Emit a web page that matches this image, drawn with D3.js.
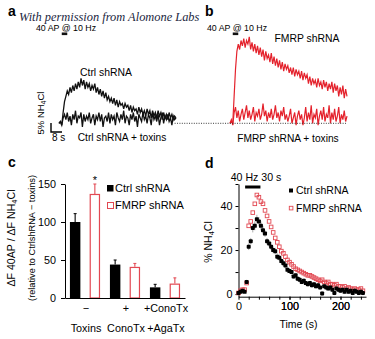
<!DOCTYPE html>
<html>
<head>
<meta charset="utf-8">
<script src="https://cdn.jsdelivr.net/npm/d3@7"></script>
<style>
  body { margin: 0; background: #fff; }
  svg { display: block; font-family: "Liberation Sans", Arial, Helvetica, sans-serif; }
</style>
</head>
<body>
<script>
"use strict";

// a/b: example traces, % NH4Cl, one sample per second
var ctrlTrace = [0, 1, -1, 6, 12, 15, 18, 16, 20, 17,
  21, 18, 22, 19, 23, 20, 25, 21, 24, 19,
  23, 20, 22, 18, 21, 19, 22, 17, 20, 16,
  19, 15, 18, 14, 17, 13, 15, 12, 14, 11,
  14, 10, 13, 9, 12, 10, 11, 8, 11, 9,
  10, 7, 10, 6, 9, 7, 8, 5, 9, 6,
  8, 5, 7, 4, 8, 5, 7, 3, 7, 4,
  6, 3, 7, 4, 6, 2, 6, 3, 5, 2,
  6, 3, 5, 2, 4, 3];
var ctrlToxinsTrace = [0, 1, -1, 3, 5, 2, 6, 1, 4, -1,
  5, 2, 7, 0, 4, 3, 6, -2, 5, 1,
  4, 2, 6, 0, 3, 5, -1, 4, 2, 6,
  1, 5, -2, 3, 4, 1, 6, 0, 5, 2,
  4, -1, 6, 3, 1, 5, 2, 7, 0, 4,
  3, -1, 5, 2, 6, 1, 4, -2, 5, 3,
  1, 6, 2, 4, 0, 5, 3, -1, 6, 2,
  4, 1, 5, -1, 3, 6, 0, 4, 2, 5,
  1, 3, -1, 4, 2, 3];
var fmrpTrace = [0, 1, 0, 15, 30, 40, 44, 41, 46, 43,
  47, 42, 46, 44, 48, 41, 45, 40, 44, 39,
  43, 38, 42, 37, 41, 35, 40, 36, 38, 34,
  39, 33, 37, 32, 36, 31, 35, 30, 34, 29,
  33, 30, 32, 28, 31, 27, 31, 26, 30, 27,
  29, 25, 29, 24, 28, 25, 27, 22, 26, 21,
  25, 22, 24, 20, 25, 21, 23, 19, 24, 20,
  23, 18, 22, 19, 23, 17, 22, 18, 21, 15,
  20, 16, 21, 14, 19, 15];
var fmrpToxinsTrace = [0, 2, -1, 6, 9, 3, 7, 1, 5, 8,
  2, 6, 10, 3, 7, 2, 5, 9, 1, 6,
  4, 8, 2, 5, 11, 4, 7, 1, 6, 3,
  8, 2, 5, 10, 3, 6, 1, 7, 4, 9,
  2, 5, 1, 4, 8, 0, 3, 6, -1, 4,
  7, 2, 5, -1, 3, 9, 1, 6, 2, 10,
  0, 5, 3, 8, -1, 4, 7, 2, 9, 1,
  5, 3, 10, 0, 6, 2, 8, 1, 4, 9,
  0, 5, 2, 7, 1, 4];
var traceStim = [2, 6];      // 40 AP @ 10 Hz, s
var scaleBar = [8, 5];       // 8 s, 5 % NH4Cl

// c: dF 40AP / dF NH4Cl, relative to Ctrl shRNA - toxins
var conditions = ["none", "cono", "conoaga"];
var condRow1 = ["\u2212", "+", "+ConoTx"];
var condRow2 = ["Toxins", "ConoTx", "+AgaTx"];
var ctrlBar = [100, 44, 14];
var ctrlBarErr = [11, 6, 4];
var fmrpBar = [137, 41, 19];
var fmrpBarErr = [13, 4.5, 7.5];

// d: 40 Hz 30 s time course, % NH4Cl
var timeS = [0, 4, 8, 12, 16, 20, 24, 28, 32, 36, 40, 44, 48, 52, 56, 60,
  64, 68, 72, 76, 80, 84, 88, 92, 96, 100, 104, 108, 112, 116, 120, 124,
  128, 132, 136, 140, 144, 148, 152, 156, 160, 164, 168, 172, 176, 180, 184, 188,
  192, 196, 200, 204, 208, 212, 216, 220, 224, 228, 232, 236, 240, 244];
var ctrlNH4 = [0.5, 1, 1.5, 1, 5.5, 21.5, 24, 30, 31, 34, 33, 31, 29, 27.5, 24, 23,
  21.5, 20, 19.5, 17, 16.5, 15, 14, 13, 11, 10.5, 10, 8, 8.5, 7, 6.5, 5.5,
  6, 5, 4.5, 5, 4, 4.5, 3.5, 4, 3, 0.3, 3.5, 3, 2.5, 3, 2, 0.5,
  2.5, 2, 1.5, 2, 1, 2, 1, 1.5, 0.5, 1.5, 1, 0.5, 1, 0.5];
var ctrlNH4Sem = [0.5, 0.5, 0.5, 0.5, 1, 1.5, 1.5, 2, 2, 2, 2, 2, 2, 1.5, 1.5, 1.5,
  1.5, 1.5, 1.5, 1.5, 1.5, 1.5, 1.5, 1.5, 1.5, 1, 1, 1, 1, 1, 1, 1,
  1, 1, 1, 1, 1, 1, 1, 1, 1, 1, 1, 1, 1, 1, 1, 1,
  1, 1, 1, 1, 1, 1, 1, 1, 1, 1, 1, 1, 1, 1];
var fmrpNH4 = [0.5, 1.5, 2, 2, 5, 31, 33, 37, 41, 45, 44, 42, 41, 38, 35.5, 33,
  30.5, 28, 25.5, 23.5, 21.5, 19.5, 18.5, 17, 15.5, 14.5, 13.5, 12.5, 11.5, 11, 10.5, 10,
  9.5, 9, 8.5, 8.5, 8, 7.5, 7, 6.5, 6, 6.5, 5.5, 5, 5.5, 4.5, 4.5, 4,
  4.5, 3.5, 3.5, 3, 3.5, 2.5, 3, 2.5, 2, 2.5, 2, 2, 2.5, 1.5];
var stimD = [13, 43];

var RED = "#e4222c";
var RED_OPEN = "#e24852";

var svg = d3.select("body").append("svg")
  .attr("width", 375)
  .attr("height", 339);

// ---------- panels a and b ----------

var xa = d3.scaleLinear().domain([0, 85]).range([59, 176]);
var xb = d3.scaleLinear().domain([0, 85]).range([230, 347]);
var yt = d3.scaleLinear().domain([0, 5]).range([123.3, 114.3]);

function traceLine(x) {
  return d3.line()
    .x(function (d, i) { return x(i); })
    .y(function (d) { return yt(d); });
}

svg.append("path").datum(ctrlToxinsTrace)
  .attr("d", traceLine(xa))
  .attr("fill", "none").attr("stroke", "#111").attr("stroke-width", 1.3);
svg.append("path").datum(ctrlTrace)
  .attr("d", traceLine(xa))
  .attr("fill", "none").attr("stroke", "#111").attr("stroke-width", 1.3);
svg.append("path").datum(fmrpToxinsTrace)
  .attr("d", traceLine(xb))
  .attr("fill", "none").attr("stroke", RED).attr("stroke-width", 1.2);
svg.append("path").datum(fmrpTrace)
  .attr("d", traceLine(xb))
  .attr("fill", "none").attr("stroke", RED).attr("stroke-width", 1.2);

// baseline
svg.append("line")
  .attr("x1", xa(84)).attr("x2", xb(85))
  .attr("y1", yt(0)).attr("y2", yt(0))
  .attr("stroke", "#222").attr("stroke-width", 0.9)
  .attr("stroke-dasharray", "1,1.4");

// stimulus marks
[xa, xb].forEach(function (x) {
  svg.append("rect")
    .attr("x", x(traceStim[0])).attr("y", 32.5)
    .attr("width", x(traceStim[1]) - x(traceStim[0])).attr("height", 2.6)
    .attr("fill", "#111");
  svg.append("text")
    .attr("x", x((traceStim[0] + traceStim[1]) / 2) + 1.5).attr("y", 31)
    .attr("text-anchor", "middle")
    .style("font-size", "8.8px")
    .text("40 AP @ 10 Hz");
});

// scale bar
var sbX = 51, sbY = 132;
svg.append("path")
  .attr("d", "M" + sbX + "," + (sbY - (yt(0) - yt(scaleBar[1]))) +
    "V" + sbY + "H" + (sbX + xa(scaleBar[0]) - xa(0)))
  .attr("fill", "none").attr("stroke", "#000").attr("stroke-width", 1.4);
svg.append("text")
  .attr("x", 52).attr("y", 141)
  .style("font-size", "10px")
  .text("8 s");
var sbLabel = svg.append("text")
  .attr("transform", "translate(44,113) rotate(-90)")
  .attr("text-anchor", "middle")
  .style("font-size", "9.5px");
sbLabel.append("tspan").text("5% NH");
sbLabel.append("tspan").attr("dy", 2).style("font-size", "7px").text("4");
sbLabel.append("tspan").attr("dy", -2).text("Cl");

svg.append("text").attr("x", 106).attr("y", 76)
  .attr("text-anchor", "middle").style("font-size", "10.4px").text("Ctrl shRNA");
svg.append("text").attr("x", 122).attr("y", 141)
  .attr("text-anchor", "middle").style("font-size", "10.2px").text("Ctrl shRNA + toxins");
svg.append("text").attr("x", 307).attr("y", 42)
  .attr("text-anchor", "middle").style("font-size", "10.4px").text("FMRP shRNA");
svg.append("text").attr("x", 288).attr("y", 142)
  .attr("text-anchor", "middle").style("font-size", "10.2px").text("FMRP shRNA + toxins");

// ---------- panel c ----------

var xc = d3.scaleBand().domain(conditions).range([65, 185]);
var xInner = d3.scaleBand().domain(["ctrl", "fmrp"])
  .range([0, xc.bandwidth()]).paddingInner(0.47).paddingOuter(0.25);
var yc = d3.scaleLinear().domain([0, 150]).range([298, 184]);

var barData = conditions.map(function (c, i) {
  return [
    { cond: c, key: "ctrl", v: ctrlBar[i], e: ctrlBarErr[i] },
    { cond: c, key: "fmrp", v: fmrpBar[i], e: fmrpBarErr[i] }
  ];
});

var groups = svg.selectAll(".grp")
  .data(barData)
  .enter().append("g")
  .attr("class", "grp")
  .attr("transform", function (d) { return "translate(" + xc(d[0].cond) + ",0)"; });

var bars = groups.selectAll(".bar")
  .data(function (d) { return d; })
  .enter().append("g")
  .attr("class", "bar");

bars.append("line")
  .attr("x1", function (d) { return xInner(d.key) + xInner.bandwidth() / 2; })
  .attr("x2", function (d) { return xInner(d.key) + xInner.bandwidth() / 2; })
  .attr("y1", function (d) { return yc(d.v); })
  .attr("y2", function (d) { return yc(d.v + d.e); })
  .attr("stroke", function (d) { return d.key === "ctrl" ? "#000" : RED_OPEN; })
  .attr("stroke-width", 1.1);
bars.append("line")
  .attr("x1", function (d) { return xInner(d.key) + xInner.bandwidth() / 2 - 1.5; })
  .attr("x2", function (d) { return xInner(d.key) + xInner.bandwidth() / 2 + 1.5; })
  .attr("y1", function (d) { return yc(d.v + d.e); })
  .attr("y2", function (d) { return yc(d.v + d.e); })
  .attr("stroke", function (d) { return d.key === "ctrl" ? "#000" : RED_OPEN; })
  .attr("stroke-width", 1);

bars.append("rect")
  .attr("x", function (d) { return xInner(d.key) + (d.key === "fmrp" ? 0.6 : 0); })
  .attr("y", function (d) { return yc(d.v) + (d.key === "fmrp" ? 0.6 : 0); })
  .attr("width", function (d) { return xInner.bandwidth() - (d.key === "fmrp" ? 1.2 : 0); })
  .attr("height", function (d) { return yc(0) - yc(d.v) - (d.key === "fmrp" ? 0.6 : 0); })
  .attr("fill", function (d) { return d.key === "ctrl" ? "#000" : "#fff"; })
  .attr("stroke", function (d) { return d.key === "ctrl" ? "none" : RED_OPEN; })
  .attr("stroke-width", 1.2);

// significance mark over FMRP, no toxins
svg.append("text")
  .attr("x", xc("none") + xInner("fmrp") + xInner.bandwidth() / 2)
  .attr("y", yc(fmrpBar[0] + fmrpBarErr[0]) - 0.5)
  .attr("text-anchor", "middle")
  .style("font-size", "11px")
  .text("*");

svg.append("g")
  .attr("transform", "translate(65,0)")
  .call(d3.axisLeft(yc).tickValues([0, 50, 100, 150]).tickSize(4).tickSizeOuter(0).tickPadding(5));
svg.append("g")
  .attr("transform", "translate(0," + yc(0) + ")")
  .call(d3.axisBottom(xc).tickSize(0).tickFormat(""));

svg.selectAll(".cLab1")
  .data(conditions).enter().append("text")
  .attr("x", function (d) { return xc(d) + xc.bandwidth() / 2 + 1; })
  .attr("y", 312)
  .attr("text-anchor", "middle")
  .style("font-size", "10.8px")
  .text(function (d, i) { return condRow1[i]; });
svg.selectAll(".cLab2")
  .data(conditions).enter().append("text")
  .attr("x", function (d) { return xc(d) + xc.bandwidth() / 2 + 1; })
  .attr("y", 332)
  .attr("text-anchor", "middle")
  .style("font-size", "10.8px")
  .text(function (d, i) { return condRow2[i]; });

var cLab = svg.append("text")
  .attr("transform", "translate(15,238) rotate(-90)")
  .attr("text-anchor", "middle")
  .style("font-size", "10.6px");
cLab.append("tspan").text("\u0394F 40AP / \u0394F NH");
cLab.append("tspan").attr("dy", 2).style("font-size", "7.5px").text("4");
cLab.append("tspan").attr("dy", -2).text("Cl");
svg.append("text")
  .attr("transform", "translate(35,238) rotate(-90)")
  .attr("text-anchor", "middle")
  .style("font-size", "9.2px")
  .text("(relative to CtrlshRNA \u2212 toxins)");

// legend c
svg.append("rect").attr("x", 107).attr("y", 185).attr("width", 6.5).attr("height", 6.5).attr("fill", "#000");
svg.append("text").attr("x", 115).attr("y", 192).style("font-size", "11px").text("Ctrl shRNA");
svg.append("rect").attr("x", 107.5).attr("y", 202.5).attr("width", 6).attr("height", 6)
  .attr("fill", "#fff").attr("stroke", RED_OPEN).attr("stroke-width", 1);
svg.append("text").attr("x", 115).attr("y", 209).style("font-size", "11px").text("FMRP shRNA");

// ---------- panel d ----------

var xd = d3.scaleLinear().domain([0, 250]).range([238.5, 366]);
var yd = d3.scaleLinear().domain([-1.2, 50]).range([296.7, 184]);

svg.append("g")
  .attr("transform", "translate(0," + yd(-1.2) + ")")
  .call(d3.axisBottom(xd).tickValues(d3.range(0, 250, 20).concat([100, 200]).sort(d3.ascending))
    .tickSize(3).tickSizeOuter(0)
    .tickFormat(function (d) { return d % 100 === 0 ? d : ""; }));
svg.append("g")
  .attr("transform", "translate(" + xd(0) + ",0)")
  .call(d3.axisLeft(yd).tickValues([0, 10, 20, 30, 40, 50])
    .tickSize(3).tickSizeOuter(0)
    .tickFormat(function (d) { return d % 20 === 0 && d < 50 ? d : ""; }));

var dPts = timeS.map(function (t, i) {
  return { t: t, c: ctrlNH4[i], s: ctrlNH4Sem[i], f: fmrpNH4[i] };
});

svg.selectAll(".fmrpPt")
  .data(dPts).enter().append("rect")
  .attr("class", "fmrpPt")
  .attr("x", function (d) { return xd(d.t) - 1.8; })
  .attr("y", function (d) { return yd(d.f) - 1.8; })
  .attr("width", 3.6).attr("height", 3.6)
  .attr("fill", "none").attr("stroke", RED_OPEN).attr("stroke-width", 0.9);

svg.selectAll(".ctrlErr")
  .data(dPts).enter().append("line")
  .attr("class", "ctrlErr")
  .attr("x1", function (d) { return xd(d.t); })
  .attr("x2", function (d) { return xd(d.t); })
  .attr("y1", function (d) { return yd(d.c - d.s); })
  .attr("y2", function (d) { return yd(d.c + d.s); })
  .attr("stroke", "#999").attr("stroke-width", 0.8);
svg.selectAll(".ctrlPt")
  .data(dPts).enter().append("rect")
  .attr("class", "ctrlPt")
  .attr("x", function (d) { return xd(d.t) - 2; })
  .attr("y", function (d) { return yd(d.c) - 2; })
  .attr("width", 4).attr("height", 4).attr("rx", 0.9)
  .attr("fill", "#000");

// stimulus bar
svg.append("rect")
  .attr("x", xd(stimD[0])).attr("y", 185.5)
  .attr("width", xd(stimD[1]) - xd(stimD[0])).attr("height", 3)
  .attr("fill", "#000");
svg.append("text")
  .attr("x", 256).attr("y", 180.5)
  .attr("text-anchor", "middle")
  .style("font-size", "10.6px")
  .text("40 Hz 30 s");

// legend d
svg.append("rect").attr("x", 289).attr("y", 188.5).attr("width", 4).attr("height", 4).attr("fill", "#000");
svg.append("text").attr("x", 296).attr("y", 194).style("font-size", "10.5px").text("Ctrl shRNA");
svg.append("rect").attr("x", 289.3).attr("y", 206.3).attr("width", 3.6).attr("height", 3.6)
  .attr("fill", "none").attr("stroke", RED_OPEN).attr("stroke-width", 0.9);
svg.append("text").attr("x", 296).attr("y", 211.5).style("font-size", "10.5px").text("FMRP shRNA");

var dLab = svg.append("text")
  .attr("transform", "translate(212,242) rotate(-90)")
  .attr("text-anchor", "middle")
  .style("font-size", "10.5px");
dLab.append("tspan").text("% NH");
dLab.append("tspan").attr("dy", 2).style("font-size", "7.5px").text("4");
dLab.append("tspan").attr("dy", -2).text("Cl");

svg.append("text")
  .attr("x", 298.5).attr("y", 328)
  .attr("text-anchor", "middle")
  .style("font-size", "10.5px")
  .text("Time (s)");

// ---------- axis styling ----------

svg.selectAll(".tick text").style("font-size", "10.8px").attr("fill", "#000");
svg.selectAll(".domain, .tick line").attr("stroke", "#000").attr("stroke-width", 1);

// ---------- panel letters and credit ----------

svg.append("text")
  .attr("x", 19).attr("y", 21)
  .style("font-family", "\"Liberation Serif\", serif")
  .style("font-style", "italic")
  .style("font-size", "12.4px")
  .attr("fill", "#1c2742")
  .text("With permission from Alomone Labs");

[["a", 8, 16], ["b", 205, 15.5], ["c", 8, 167], ["d", 205, 168]].forEach(function (p) {
  svg.append("text")
    .attr("x", p[1]).attr("y", p[2])
    .style("font-size", "14px").style("font-weight", "bold")
    .text(p[0]);
});
</script>
</body>
</html>
